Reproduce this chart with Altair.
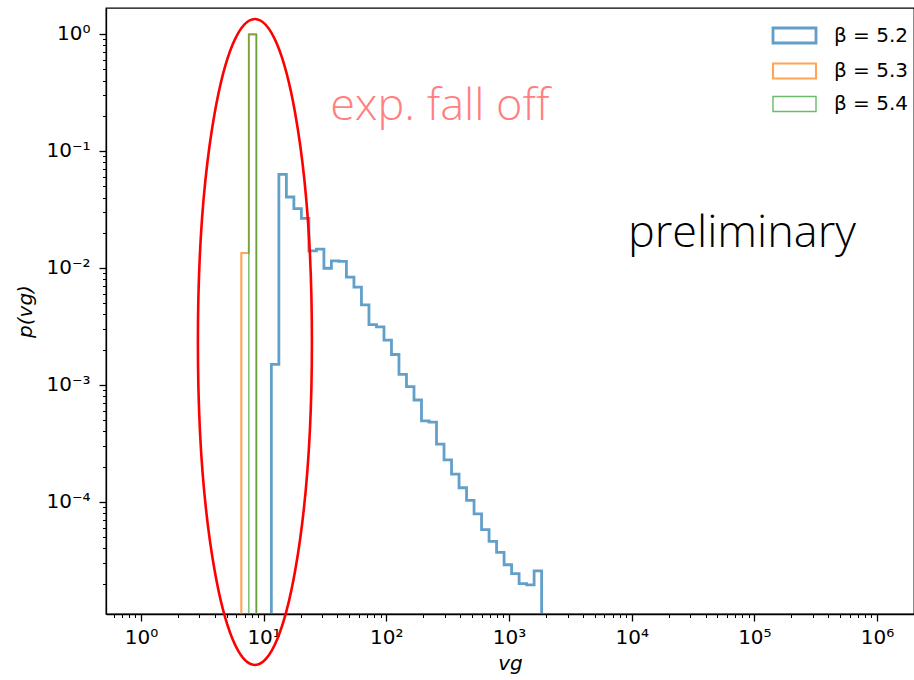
import altair as alt
import numpy as np
import pandas as pd

# ---------------- data ----------------
series_names = ["β = 5.2", "β = 5.3", "β = 5.4"]
series_colors = ["#1f77b4", "#ff7f0e", "#2ca02c"]
series_widths = [2.8, 1.4, 1.4]

# common log-spaced bin edges (40 bins between global min and max)
bin_lo = 6.58
bin_hi = 1844.0
n_bins = 40

# beta = 5.2 : starts at bin 4
beta52_first_bin = 4
beta52_values = [
    1.5e-3, 0.0631, 0.0404, 0.0322, 0.0265, 0.0140, 0.0145, 0.00994,
    0.0115, 0.0114, 0.00833, 0.00686, 0.00484, 0.00327, 0.00313, 0.00241,
    0.00182, 0.00123, 0.000965, 0.000743, 0.000492, 0.000480, 0.000312,
    0.000229, 0.000173, 0.000132, 0.000103, 7.9e-5, 5.8e-5, 4.6e-5,
    3.7e-5, 2.9e-5, 2.44e-5, 2.0e-5, 1.95e-5, 2.57e-5,
]
# beta = 5.3 : starts at bin 0
beta53_first_bin = 0
beta53_values = [0.0134, 0.9866]
# beta = 5.4 : starts at bin 1
beta54_first_bin = 1
beta54_values = [1.0]

# annotations
ellipse_center = {"x": 8.49, "y": 2.33e-3}
fall_off_text = {"x": 273.5, "y": 0.24, "label": "exp. fall off"}
prelim_text = {"x": 79100.0, "y": 0.0199, "label": "preliminary"}

x_domain = [0.519, 2.0e6]
y_domain = [1.10e-5, 1.668]

# ---------------- build step outlines ----------------
edges = np.logspace(np.log10(bin_lo), np.log10(bin_hi), n_bins + 1)
floor_value = 1e-8
rows = []
for name, first, vals in [
    (series_names[0], beta52_first_bin, beta52_values),
    (series_names[1], beta53_first_bin, beta53_values),
    (series_names[2], beta54_first_bin, beta54_values),
]:
    order = 0
    rows.append({"series": name, "x": edges[first], "y": floor_value, "o": order})
    for j, v in enumerate(vals):
        order += 1
        rows.append({"series": name, "x": edges[first + j], "y": v, "o": order})
        order += 1
        rows.append({"series": name, "x": edges[first + j + 1], "y": v, "o": order})
    order += 1
    rows.append({"series": name, "x": edges[first + len(vals)], "y": floor_value, "o": order})
steps = pd.DataFrame(rows)

# ---------------- axes helpers ----------------
sup = str.maketrans("0123456789-", "⁰¹²³⁴⁵⁶⁷⁸⁹⁻")


def tick_values(lo, hi):
    vals = []
    for e in range(-7, 8):
        for m in range(1, 10):
            v = m * 10.0 ** e
            if lo <= v <= hi:
                vals.append(v)
    return vals


def label_expr(lo, hi):
    expr = "''"
    for e in range(-7, 8):
        v = 10.0 ** e
        if lo <= v <= hi:
            lab = "10" + str(e).translate(sup)
            expr = f"abs(log(datum.value)/LN10 - ({e})) < 0.001 ? '{lab}' : " + expr
    return expr


minor_test = "abs(log(datum.value)/LN10 - round(log(datum.value)/LN10)) > 0.001"

FONT = "DejaVu Sans"

x_axis = alt.Axis(
    values=tick_values(*x_domain),
    labelExpr=label_expr(*x_domain),
    tickSize={"condition": {"test": minor_test, "value": 3.5}, "value": 7},
    tickWidth={"condition": {"test": minor_test, "value": 1}, "value": 1.3},
    labelOverlap=False,
    labelFlush=False,
    grid=False,
    title="vg",
    titleFontStyle="italic",
    titleFontWeight="normal",
    titleFontSize=20,
    titleFont=FONT,
    titlePadding=6,
    labelFont=FONT,
    labelFontSize=20,
    labelColor="black",
    labelPadding=6,
    domainColor="black",
    domainWidth=1.3,
    tickColor="black",
)
y_axis = alt.Axis(
    values=tick_values(*y_domain),
    labelExpr=label_expr(*y_domain),
    tickSize={"condition": {"test": minor_test, "value": 3.5}, "value": 7},
    tickWidth={"condition": {"test": minor_test, "value": 1}, "value": 1.3},
    labelOverlap=False,
    labelFlush=False,
    grid=False,
    title="p(vg)",
    titleFontStyle="italic",
    titleFontWeight="normal",
    titleFontSize=20,
    titleFont=FONT,
    titlePadding=10,
    labelFont=FONT,
    labelFontSize=20,
    labelColor="black",
    labelPadding=9,
    domainColor="black",
    domainWidth=1.3,
    tickColor="black",
)

xs = alt.Scale(type="log", domain=x_domain, nice=False)
ys = alt.Scale(type="log", domain=y_domain, nice=False)

hist = (
    alt.Chart(steps)
    .mark_line(clip=True, opacity=0.7, strokeJoin="miter", strokeCap="butt")
    .encode(
        x=alt.X("x:Q", scale=xs, axis=x_axis),
        y=alt.Y("y:Q", scale=ys, axis=y_axis),
        order="o:Q",
        stroke=alt.Stroke(
            "series:N",
            scale=alt.Scale(domain=series_names, range=series_colors),
            legend=alt.Legend(title=None),
        ),
        strokeWidth=alt.StrokeWidth(
            "series:N",
            scale=alt.Scale(domain=series_names, range=series_widths),
            legend=alt.Legend(title=None),
        ),
        detail="series:N",
    )
)

ellipse_df = pd.DataFrame([ellipse_center])
a = 0.1765
k = 0.5523
ellipse_path = (
    f"M{a},0 C{a},{k} {k*a:.4f},1 0,1 C{-k*a:.4f},1 {-a},{k} {-a},0 "
    f"C{-a},{-k} {-k*a:.4f},-1 0,-1 C{k*a:.4f},-1 {a},{-k} {a},0 Z"
)
ellipse = (
    alt.Chart(ellipse_df)
    .mark_point(shape=ellipse_path, size=646 ** 2, filled=False, stroke="#ff0000",
                strokeWidth=2.6, opacity=1)
    .encode(x=alt.X("x:Q", scale=xs), y=alt.Y("y:Q", scale=ys))
)

txt1 = (
    alt.Chart(pd.DataFrame([fall_off_text]))
    .mark_text(font="Open Sans", fontWeight=300, fontSize=45, color="#ff7f80",
               align="center", baseline="middle")
    .encode(x=alt.X("x:Q", scale=xs), y=alt.Y("y:Q", scale=ys), text="label:N")
)
txt2 = (
    alt.Chart(pd.DataFrame([prelim_text]))
    .mark_text(font="Open Sans", fontWeight=300, fontSize=45, color="black",
               align="center", baseline="middle")
    .encode(x=alt.X("x:Q", scale=xs), y=alt.Y("y:Q", scale=ys), text="label:N")
)

chart = (
    alt.layer(hist, ellipse, txt1, txt2)
    .properties(
        width=808,
        height=606,
        autosize=alt.AutoSizeParams(type="none"),
        padding={"left": 106, "top": 8, "right": 0, "bottom": 66},
        background="white",
    )
    .configure_view(stroke="black", strokeWidth=1.3)
    .configure_legend(
        orient="none",
        legendX=677,
        legendY=16,
        symbolType="M-2.15,-0.75H2.15V0.75H-2.15Z",
        symbolSize=400,
        symbolFillColor="white",
        symbolOpacity=0.7,
        labelFont=FONT,
        labelFontSize=20,
        labelColor="black",
        labelOffset=28,
        rowPadding=9.5,
        padding=0,
    )
)

chart.save("out.html", embed_options={"renderer": "svg", "actions": False})
